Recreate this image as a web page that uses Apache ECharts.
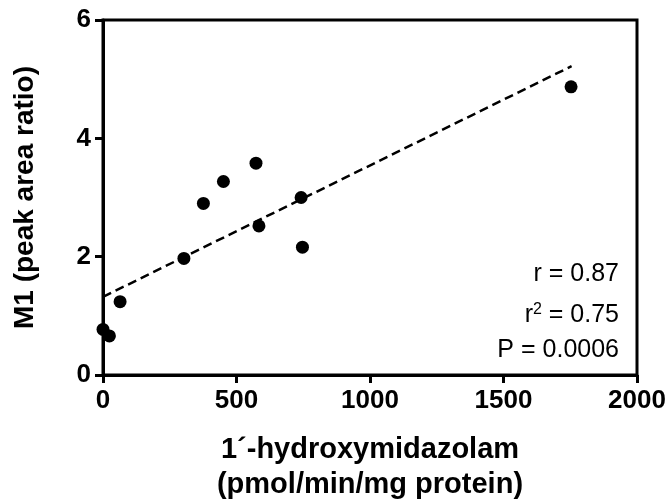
<!DOCTYPE html>
<html>
<head>
<meta charset="utf-8">
<script src="https://cdn.jsdelivr.net/npm/echarts@6/dist/echarts.min.js"></script>
<style>
  html, body { margin: 0; padding: 0; background: #fff; }
  #chart { width: 671px; height: 502px; }
</style>
</head>
<body>
<div id="chart"></div>
<script>
// 1'-hydroxymidazolam formation rate vs. M1 peak area ratio
const hydroxyMdz = [0, 24, 64, 303, 376, 451, 573, 584, 742, 747, 1753];
const m1Ratio    = [0.77, 0.66, 1.24, 1.97, 2.90, 3.27, 3.58, 2.52, 3.00, 2.16, 4.87];

// linear regression line end points
const fitX = [0, 1755];
const fitY = [1.32, 5.22];

const xTicks = [0, 500, 1000, 1500, 2000];
const yTicks = [0, 2, 4, 6];

const statR  = '0.87';
const statR2 = '0.75';
const statP  = '0.0006';

const FONT = 'Liberation Sans, Arial, Helvetica, sans-serif';

const chart = echarts.init(document.getElementById('chart'), null, { renderer: 'canvas' });

const axisCommon = {
  axisLine: { show: true, onZero: false, lineStyle: { color: '#000', width: 3 } },
  axisTick: { show: true, inside: false, length: 8, lineStyle: { color: '#000', width: 3 } },
  splitLine: { show: false },
  nameTextStyle: { color: '#000', fontFamily: FONT, fontWeight: 'bold', fontSize: 29 }
};

const tickLabel = {
  color: '#000', fontFamily: FONT, fontWeight: 'bold', fontSize: 26,
  formatter: v => String(v)
};

chart.setOption({
  animation: false,
  backgroundColor: '#fff',
  grid: {
    left: 103, right: 34, top: 20, bottom: 127,
    outerBoundsMode: 'none',
    containLabel: false,
    show: true, borderColor: '#000', borderWidth: 3, backgroundColor: 'transparent'
  },
  xAxis: Object.assign({}, axisCommon, {
    type: 'value',
    min: xTicks[0], max: xTicks[xTicks.length - 1],
    interval: xTicks[1] - xTicks[0],
    name: '1´-hydroxymidazolam\n(pmol/min/mg protein)',
    nameLocation: 'middle',
    nameGap: 57,
    nameTextStyle: Object.assign({}, axisCommon.nameTextStyle, { lineHeight: 35 }),
    axisLabel: Object.assign({}, tickLabel, { margin: 13 })
  }),
  yAxis: Object.assign({}, axisCommon, {
    type: 'value',
    min: yTicks[0], max: yTicks[yTicks.length - 1],
    interval: yTicks[1] - yTicks[0],
    name: 'M1 (peak area ratio)',
    nameLocation: 'middle',
    nameGap: 64,
    nameTextStyle: Object.assign({}, axisCommon.nameTextStyle, { fontSize: 28 }),
    axisLabel: Object.assign({}, tickLabel, { margin: 12 })
  }),
  series: [
    {
      type: 'line',
      data: fitX.map((x, i) => [x, fitY[i]]),
      symbol: 'none',
      silent: true,
      lineStyle: { color: '#000', width: 2.5, type: [9, 5] },
      z: 2
    },
    {
      type: 'scatter',
      data: hydroxyMdz.map((x, i) => [x, m1Ratio[i]]),
      symbol: 'circle',
      symbolSize: 13,
      itemStyle: { color: '#000', opacity: 1 },
      z: 3
    }
  ],
  graphic: [
    {
      type: 'text', right: 52, top: 262,
      style: { text: 'r = ' + statR, fill: '#000', font: '25px ' + FONT }
    },
    {
      type: 'text', right: 52, top: 302,
      style: {
        text: '{a|r}{s|2}{a| = ' + statR2 + '}',
        rich: {
          a: { fill: '#000', fontFamily: FONT, fontSize: 25, verticalAlign: 'bottom' },
          s: { fill: '#000', fontFamily: FONT, fontSize: 16, verticalAlign: 'bottom', padding: [0, 0, 10, 0] }
        }
      }
    },
    {
      type: 'text', right: 52, top: 338,
      style: { text: 'P = ' + statP, fill: '#000', font: '25px ' + FONT }
    }
  ]
});
</script>
</body>
</html>
